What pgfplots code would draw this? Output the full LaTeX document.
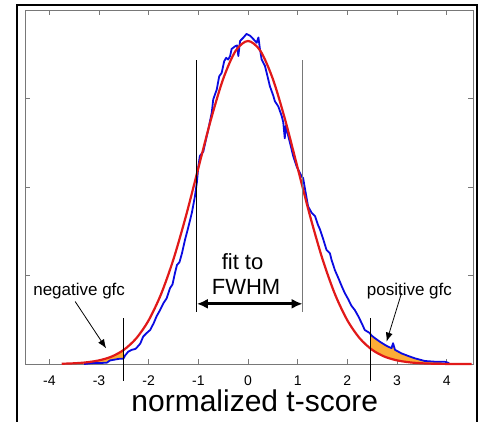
\documentclass[border=0pt]{standalone}
\usepackage{fontspec}
\setmainfont{Liberation Sans}
\usepackage{pgfplots}
\pgfplotsset{compat=1.18}
\usepgfplotslibrary{fillbetween}
\usetikzlibrary{arrows.meta}

\definecolor{fitred}{RGB}{225,25,25}
\definecolor{histblue}{RGB}{10,10,225}
\definecolor{gfcorange}{RGB}{252,172,55}
\definecolor{boxgray}{RGB}{120,120,120}

\pgfplotstableread{
x y
-3.75 0.003
-3.50 0.008
-3.25 0.019
-3.00 0.041
-2.75 0.083
-2.50 0.160
-2.25 0.290
-2.00 0.494
-1.75 0.790
-1.50 1.185
-1.25 1.671
-1.00 2.214
-0.75 2.755
-0.50 3.221
-0.25 3.538
0.00 3.650
0.25 3.538
0.50 3.221
0.75 2.755
1.00 2.214
1.25 1.671
1.50 1.185
1.75 0.790
2.00 0.494
2.25 0.290
2.50 0.160
2.75 0.083
3.00 0.041
3.25 0.019
3.50 0.008
3.75 0.003
4.00 0.001
4.50 0.000
}\fitdata

\pgfplotstableread{
x y
-3.30 0.000
-3.14 0.010
-2.95 0.012
-2.84 0.015
-2.78 0.040
-2.68 0.050
-2.58 0.060
-2.51 0.060
-2.47 0.100
-2.41 0.140
-2.34 0.160
-2.27 0.170
-2.24 0.185
-2.17 0.230
-2.11 0.310
-2.04 0.350
-1.97 0.385
-1.90 0.460
-1.84 0.540
-1.77 0.610
-1.70 0.690
-1.64 0.740
-1.57 0.857
-1.52 0.900
-1.47 1.030
-1.43 1.120
-1.38 1.150
-1.33 1.250
-1.27 1.400
-1.20 1.550
-1.13 1.710
-1.07 1.890
-1.03 2.050
-1.00 2.230
-0.97 2.350
-0.90 2.400
-0.865 2.490
-0.80 2.650
-0.73 2.840
-0.70 2.990
-0.63 3.100
-0.58 3.250
-0.53 3.290
-0.48 3.420
-0.44 3.460
-0.40 3.440
-0.36 3.480
-0.33 3.560
-0.26 3.590
-0.22 3.600
-0.195 3.480
-0.16 3.650
-0.09 3.690
-0.03 3.730
0.04 3.710
0.11 3.670
0.175 3.630
0.21 3.690
0.24 3.560
0.275 3.440
0.34 3.370
0.376 3.290
0.44 3.140
0.51 3.030
0.54 2.970
0.61 2.910
0.68 2.800
0.71 2.730
0.74 2.550
0.76 2.690
0.845 2.500
0.91 2.350
0.98 2.230
1.08 2.120
1.11 2.100
1.15 1.970
1.21 1.780
1.28 1.710
1.35 1.670
1.41 1.570
1.45 1.520
1.52 1.400
1.58 1.290
1.65 1.250
1.68 1.180
1.75 1.060
1.82 0.970
1.89 0.875
1.95 0.800
2.02 0.730
2.08 0.660
2.15 0.610
2.22 0.540
2.29 0.460
2.35 0.385
2.45 0.350
2.49 0.320
2.56 0.290
2.66 0.250
2.76 0.215
2.82 0.196
2.89 0.180
2.92 0.235
2.96 0.160
3.09 0.120
3.23 0.090
3.36 0.064
3.56 0.034
3.76 0.026
3.96 0.026
4.05 0.010
}\histdata

\begin{document}
\begin{tikzpicture}
\begin{axis}[
    scale only axis,
    width=448pt, height=354pt,
    xmin=-4.49, xmax=4.53, ymin=0, ymax=4,
    clip=false,
    axis line style={boxgray, line width=0.9pt},
    tick style={boxgray, line width=0.9pt},
    major tick length=5pt,
    tick align=inside,
    xtick={-4,-3,-2,-1,0,1,2,3,4},
    xticklabels={-4,-3,-2,-1,0,1,2,3,4},
    ytick={0,1,2,3,4},
    yticklabels={},
    xticklabel style={anchor=base, yshift=-21pt, font=\fontsize{14}{14}\selectfont},
    xtick pos=both, ytick pos=both,
    xticklabel pos=bottom,
]
  \addplot[draw=none, name path=red, forget plot] table {\fitdata};
  \addplot[draw=none, name path=blue, forget plot] table {\histdata};
  \addplot[fill=gfcorange, draw=none] fill between[of=red and blue, soft clip={domain=-3.3:-2.51}];
  \addplot[fill=gfcorange, draw=none] fill between[of=blue and red, soft clip={domain=2.475:3.9}];

  \addplot[histblue, line width=1.8pt, line join=round] table {\histdata};
  \addplot[fitred, line width=2.2pt, smooth] table {\fitdata};

  % FWHM markers
  \draw[black, line width=1pt] (axis cs:-1.03,0.59) -- (axis cs:-1.03,3.44);
  \draw[boxgray, line width=1.2pt] (axis cs:1.10,0.59) -- (axis cs:1.10,3.44);
  \draw[black, line width=3pt, {Latex[length=11pt,width=10pt]}-{Latex[length=11pt,width=10pt]}]
      (axis cs:-1.03,0.68) -- (axis cs:1.10,0.68);
  \node[anchor=base, font=\fontsize{22}{22}\selectfont] at (axis cs:-0.11,1.065) {fit to};
  \node[anchor=base, font=\fontsize{22}{22}\selectfont] at (axis cs:-0.04,0.79) {FWHM};

  % gfc thresholds
  \draw[black, line width=1pt] (axis cs:-2.51,0.517) -- (axis cs:-2.51,-0.19);
  \draw[black, line width=1pt] (axis cs:2.475,0.517) -- (axis cs:2.475,-0.19);
  \node[anchor=base, font=\fontsize{17}{17}\selectfont] at (axis cs:-3.40,0.77) {negative gfc};
  \node[anchor=base, font=\fontsize{17}{17}\selectfont] at (axis cs:3.25,0.77) {positive gfc};
  \draw[black, line width=0.8pt, -{Latex[length=9pt,width=7pt]}] (axis cs:-3.48,0.706) -- (axis cs:-2.857,0.177);
  \draw[black, line width=0.8pt, -{Latex[length=9pt,width=7pt]}] (axis cs:3.09,0.80) -- (axis cs:2.79,0.253);

  \node[anchor=base, yshift=-47.7pt, font=\fontsize{30}{30}\selectfont] at (axis description cs:0.513,0) {normalized t-score};
\end{axis}
\draw[black, line width=2.5pt] (-8pt,-80pt) -- (-8pt,359pt) -- (452pt,359pt) -- (452pt,-80pt);
\pgfresetboundingbox
\path (-25pt,-57pt) rectangle (460pt,364pt);
\end{tikzpicture}
\end{document}
